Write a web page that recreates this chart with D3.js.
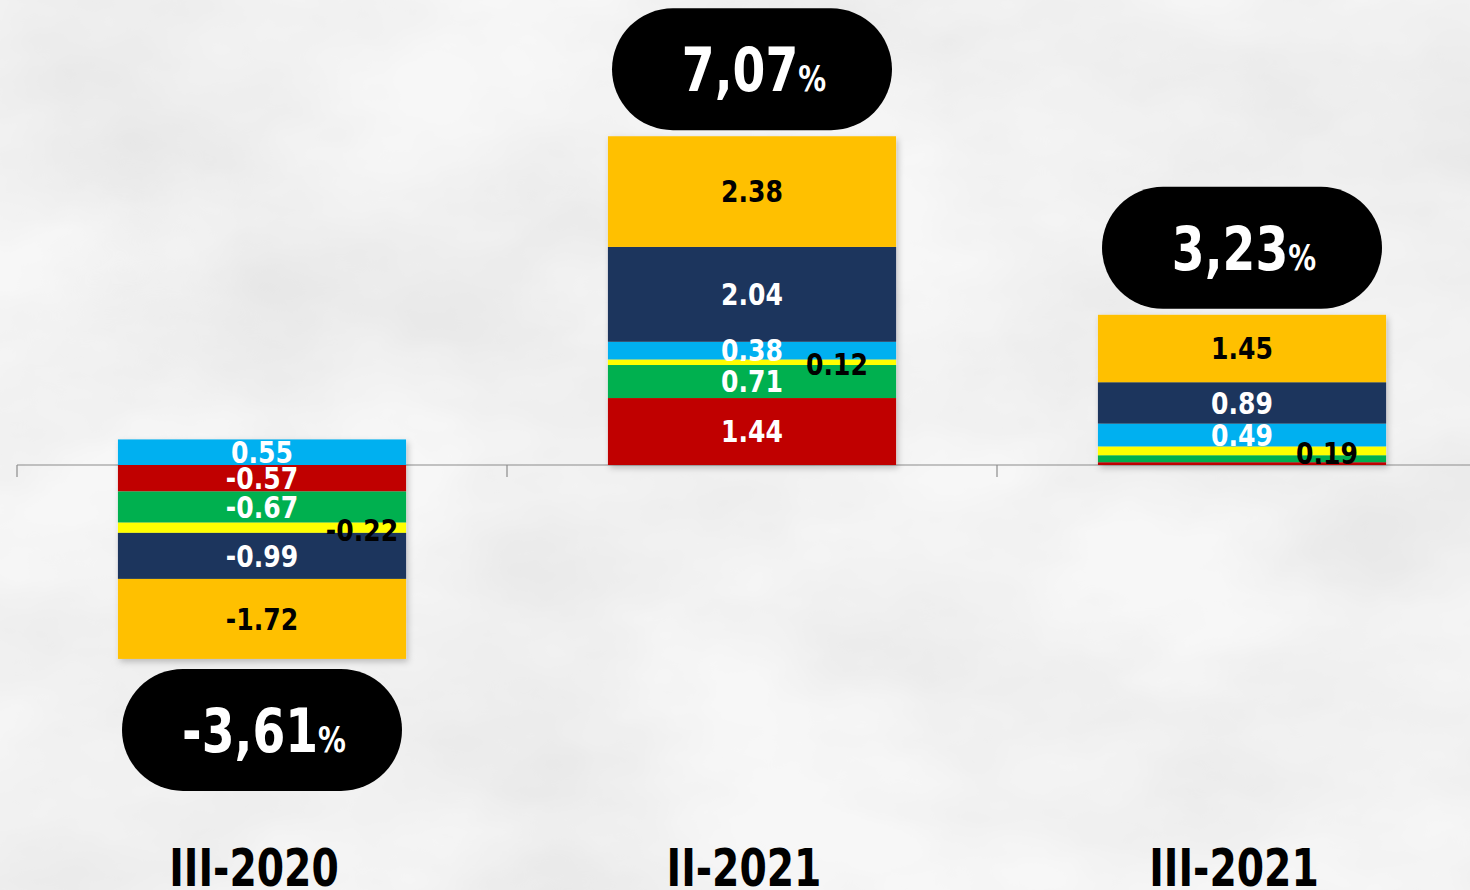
<!DOCTYPE html>
<html>
<head>
<meta charset="utf-8">
<script src="https://cdn.jsdelivr.net/npm/d3@7"></script>
<style>
    html, body { margin: 0; padding: 0; background: #f6f6f6; overflow: hidden; }
    text { font-family: "DejaVu Sans Condensed", "DejaVu Sans", sans-serif; font-stretch: condensed; font-weight: bold; }
</style>
</head>
<body>
<svg id="chart"></svg>
<script>
// Quarters and totals
const quarters = ["III-2020", "II-2021", "III-2021"];
const totals = [-3.61, 7.07, 3.23];
const totalLabels = ["-3,61", "7,07", "3,23"];

// Components, stacked from the axis outwards
const seriesKeys = ["red", "green", "yellow", "lightblue", "navy", "gold"];
const seriesColors = ["#c00000", "#00b050", "#ffff00", "#00b0f0", "#1b365d", "#ffc000"];
const labelColors = ["#ffffff", "#ffffff", "#000000", "#ffffff", "#ffffff", "#000000"];
const redValues = [-0.57, 1.44, 0.06];
const greenValues = [-0.67, 0.71, 0.15];
const yellowValues = [-0.22, 0.12, 0.19];
const lightblueValues = [0.55, 0.38, 0.49];
const navyValues = [-0.99, 2.04, 0.89];
const goldValues = [-1.72, 2.38, 1.45];

const width = 1470;
const height = 890;

// Build the table for d3.stack
const table = quarters.map((q, i) => ({
    quarter: q,
    red: redValues[i],
    green: greenValues[i],
    yellow: yellowValues[i],
    lightblue: lightblueValues[i],
    navy: navyValues[i],
    gold: goldValues[i]
}));

const stacked = d3.stack()
    .keys(seriesKeys)
    .offset(d3.stackOffsetDiverging)(table);

const x = d3.scaleBand().domain(quarters).range([17, 1487]).padding(0);
const barWidth = x.bandwidth() * 0.588;
const y = d3.scaleLinear().domain([-4, 8]).range([651, 93]);

const svg = d3.select("#chart")
    .attr("width", width)
    .attr("height", height);

const defs = svg.append("defs");

// faint marble-like background
const marble = defs.append("filter").attr("id", "marble")
    .attr("x", 0).attr("y", 0).attr("width", "100%").attr("height", "100%");
marble.append("feTurbulence")
    .attr("type", "fractalNoise")
    .attr("baseFrequency", "0.003 0.005")
    .attr("numOctaves", 5)
    .attr("seed", 11);
marble.append("feColorMatrix")
    .attr("type", "matrix")
    .attr("values", "0 0 0 0 0  0 0 0 0 0  0 0 0 0 0  0.4 0.4 0 0 -0.28");

const shadow = defs.append("filter").attr("id", "shadow")
    .attr("x", "-10%").attr("y", "-10%").attr("width", "120%").attr("height", "120%");
shadow.append("feDropShadow")
    .attr("dx", 2).attr("dy", 3)
    .attr("stdDeviation", 3)
    .attr("flood-color", "#000")
    .attr("flood-opacity", 0.22);

svg.append("rect")
    .attr("width", width).attr("height", height)
    .attr("fill", "#f7f7f7");
svg.append("rect")
    .attr("width", width).attr("height", height)
    .attr("filter", "url(#marble)")
    .attr("opacity", 0.2);

// Axis line with tick marks between categories
const axis = svg.append("g").attr("class", "axis");
axis.append("line")
    .attr("x1", 17).attr("x2", width)
    .attr("y1", y(0)).attr("y2", y(0))
    .attr("stroke", "#8c8c8c")
    .attr("stroke-width", 1.2);
axis.selectAll("line.tick")
    .data(quarters)
    .enter().append("line")
    .attr("class", "tick")
    .attr("x1", d => x(d)).attr("x2", d => x(d))
    .attr("y1", y(0)).attr("y2", y(0) + 12)
    .attr("stroke", "#8c8c8c")
    .attr("stroke-width", 1.2);

// Bars
const barsG = svg.append("g").attr("filter", "url(#shadow)");
stacked.forEach((layer, si) => {
    barsG.selectAll("rect.s" + si)
        .data(layer)
        .enter().append("rect")
        .attr("class", "s" + si)
        .attr("x", d => x(d.data.quarter) + (x.bandwidth() - barWidth) / 2)
        .attr("width", barWidth)
        .attr("y", d => y(Math.max(d[0], d[1])))
        .attr("height", d => Math.abs(y(d[0]) - y(d[1])))
        .attr("fill", seriesColors[si]);
});

// Segment labels (thin yellow slice gets its label pushed to the right)
const labelsG = svg.append("g");
stacked.forEach((layer, si) => {
    const key = seriesKeys[si];
    const items = layer.filter(d => key === "yellow" || Math.abs(d[1] - d[0]) >= 0.3);
    labelsG.selectAll("text.l" + si)
        .data(items)
        .enter().append("text")
        .attr("transform", d => {
            const v = d.data[key];
            const shift = key === "yellow" ? (v < 0 ? 100 : 85) : 0;
            const ty = y((d[0] + d[1]) / 2) + (key === "yellow" ? 2 : 0);
            return `translate(${x(d.data.quarter) + x.bandwidth() / 2 + shift},${ty}) scale(0.93,1)`;
        })
        .attr("dy", "0.36em")
        .attr("text-anchor", "middle")
        .attr("font-size", 30)
        .attr("fill", labelColors[si])
        .text(d => d.data[key].toFixed(2));
});

// Total pills
const pillW = 280, pillH = 122;
const pills = svg.append("g");
quarters.forEach((q, i) => {
    const top = d3.max(stacked, l => l[i][1]);
    const bottom = d3.min(stacked, l => l[i][0]);
    const cx = x(q) + x.bandwidth() / 2;
    const py = totals[i] >= 0 ? y(top) - 6 - pillH : y(bottom) + 10;
    const g = pills.append("g");
    g.append("rect")
        .attr("x", cx - pillW / 2)
        .attr("y", py)
        .attr("width", pillW)
        .attr("height", pillH)
        .attr("rx", pillH / 2)
        .attr("fill", "#000");
    const t = g.append("text")
        .attr("transform", `translate(${cx + 2},${py + pillH / 2 + 22}) scale(0.86,1)`)
        .attr("text-anchor", "middle")
        .attr("fill", "#fff")
        .attr("font-size", 61);
    t.append("tspan").text(totalLabels[i]);
    t.append("tspan").attr("font-size", 36).text("%");
});

// Category labels
svg.append("g").selectAll("text.cat")
    .data(quarters)
    .enter().append("text")
    .attr("class", "cat")
    .attr("transform", d => `translate(${x(d) + x.bandwidth() / 2 - 8},886) scale(0.84,1)`)
    .attr("text-anchor", "middle")
    .attr("font-size", 52)
    .attr("fill", "#000")
    .text(d => d);
</script>
</body>
</html>
